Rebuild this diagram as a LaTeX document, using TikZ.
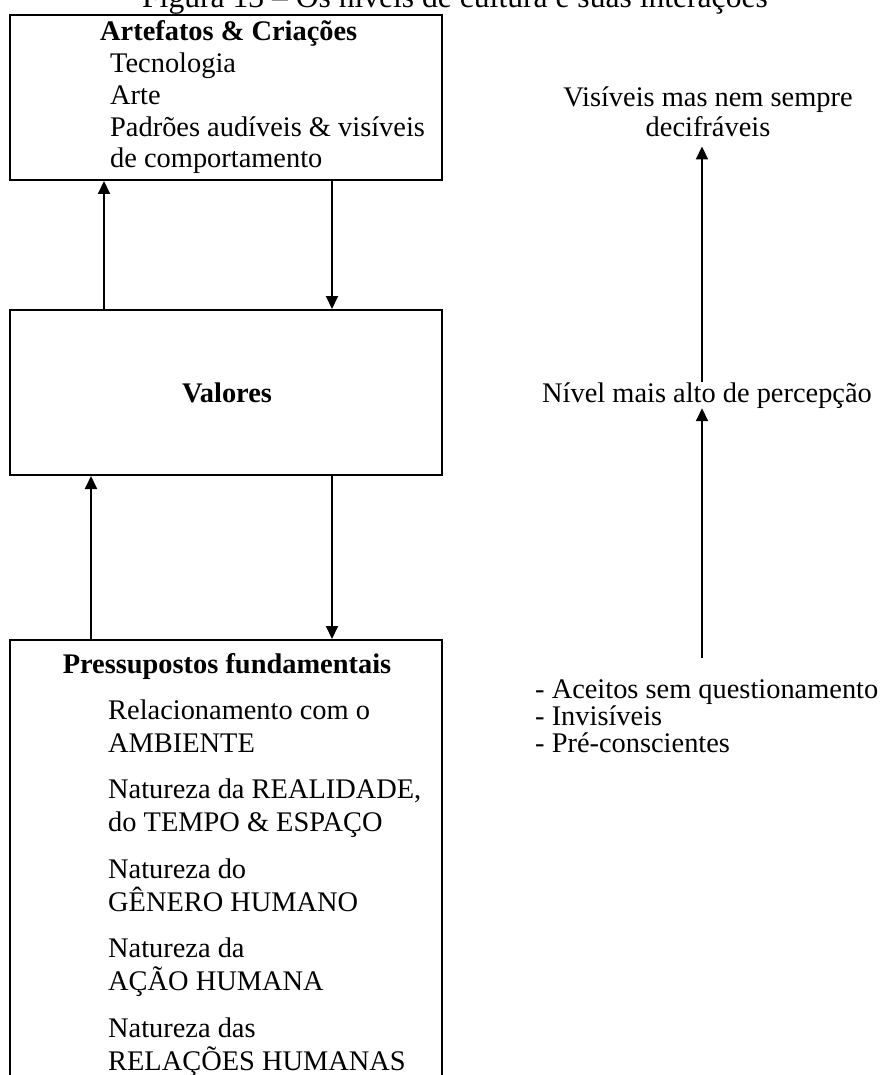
\documentclass[tikz,border=0pt]{standalone}
\usepackage{fontspec}
\setmainfont{Liberation Serif}
\usetikzlibrary{arrows.meta}

\tikzset{
  box/.style={draw, line width=2pt, minimum width=432pt, inner sep=0pt},
  txt/.style={inner sep=0pt, font=\fontsize{28.4}{32}\selectfont},
  btxt/.style={inner sep=0pt, font=\fontsize{28.4}{32}\selectfont\bfseries},
  arr/.style={line width=2pt, -{Triangle[length=13pt, width=12pt]}}
}

\begin{document}
\begin{tikzpicture}[x=1pt, y=-1pt]
\def\itemx{108}
\def\itemy{719}
\def\itemgap{79.5}

\useasboundingbox (0,0) rectangle (881,1075);
\clip (0,0) rectangle (881,1075);

% title, cut off at the top edge
\node[inner sep=0pt, font=\fontsize{31.6}{36}\selectfont, anchor=base] (title) at (455,8)
  {Figura 13 – Os níveis de cultura e suas interações};

% the three levels
\node[box, minimum height=165pt] (art) at (226,97.5) {};
\node[box, minimum height=165pt] (val) at (226,392.5) {};
\node[box, minimum height=460pt] (pre) at (226,870) {};

\node[btxt, anchor=base west] (arth) at (100,41) {Artefatos \& Criações};
\node[txt, anchor=base west] (art1) at (110,73) {Tecnologia};
\node[txt, anchor=base west] (art2) at (110,105) {Arte};
\node[txt, anchor=base west] (art3) at (110,137) {Padrões audíveis \& visíveis};
\node[txt, anchor=base west] (art4) at (110,168) {de comportamento};

\node[btxt, anchor=base] (valh) at (227,402) {Valores};

\node[btxt, anchor=base] (preh) at (227,673) {Pressupostos fundamentais};
\foreach \a/\b [count=\i] in {Relacionamento com o/AMBIENTE,
    {Natureza da REALIDADE,}/{do TEMPO \& ESPAÇO},
    Natureza do/GÊNERO HUMANO,
    Natureza da/AÇÃO HUMANA,
    Natureza das/RELAÇÕES HUMANAS} {
  \node[txt, anchor=base west] (pre\i a) at (\itemx,{\itemy+\itemgap*(\i-1)}) {\a};
  \node[txt, anchor=base west] (pre\i b) at (\itemx,{\itemy+\itemgap*(\i-1)+33}) {\b};
}

\draw[arr] ([xshift=95pt]val.north west) -- ([xshift=95pt]art.south west);
\draw[arr] ([xshift=323pt]art.south west) -- ([xshift=323pt]val.north west);
\draw[arr] ([xshift=82pt]pre.north west) -- ([xshift=82pt]val.south west);
\draw[arr] ([xshift=323pt]val.south west) -- ([xshift=323pt]pre.north west);

% perception scale
\node[txt, anchor=base] (vis1) at (708,107) {Visíveis mas nem sempre};
\node[txt, anchor=base] (vis2) at (708,137) {decifráveis};
\node[txt, anchor=base] (niv) at (707,402) {Nível mais alto de percepção};
\node[txt, anchor=base west] (inv1) at (535,698) {- Aceitos sem questionamento};
\node[txt, anchor=base west] (inv2) at (535,725) {- Invisíveis};
\node[txt, anchor=base west] (inv3) at (535,752) {- Pré-conscientes};

\coordinate (foot) at (702,658);
\draw[arr] (foot) -- (niv.south -| foot);
\draw[arr, shorten >=9pt] (niv.north -| foot) -- (vis2.south -| foot);
\end{tikzpicture}
\end{document}
